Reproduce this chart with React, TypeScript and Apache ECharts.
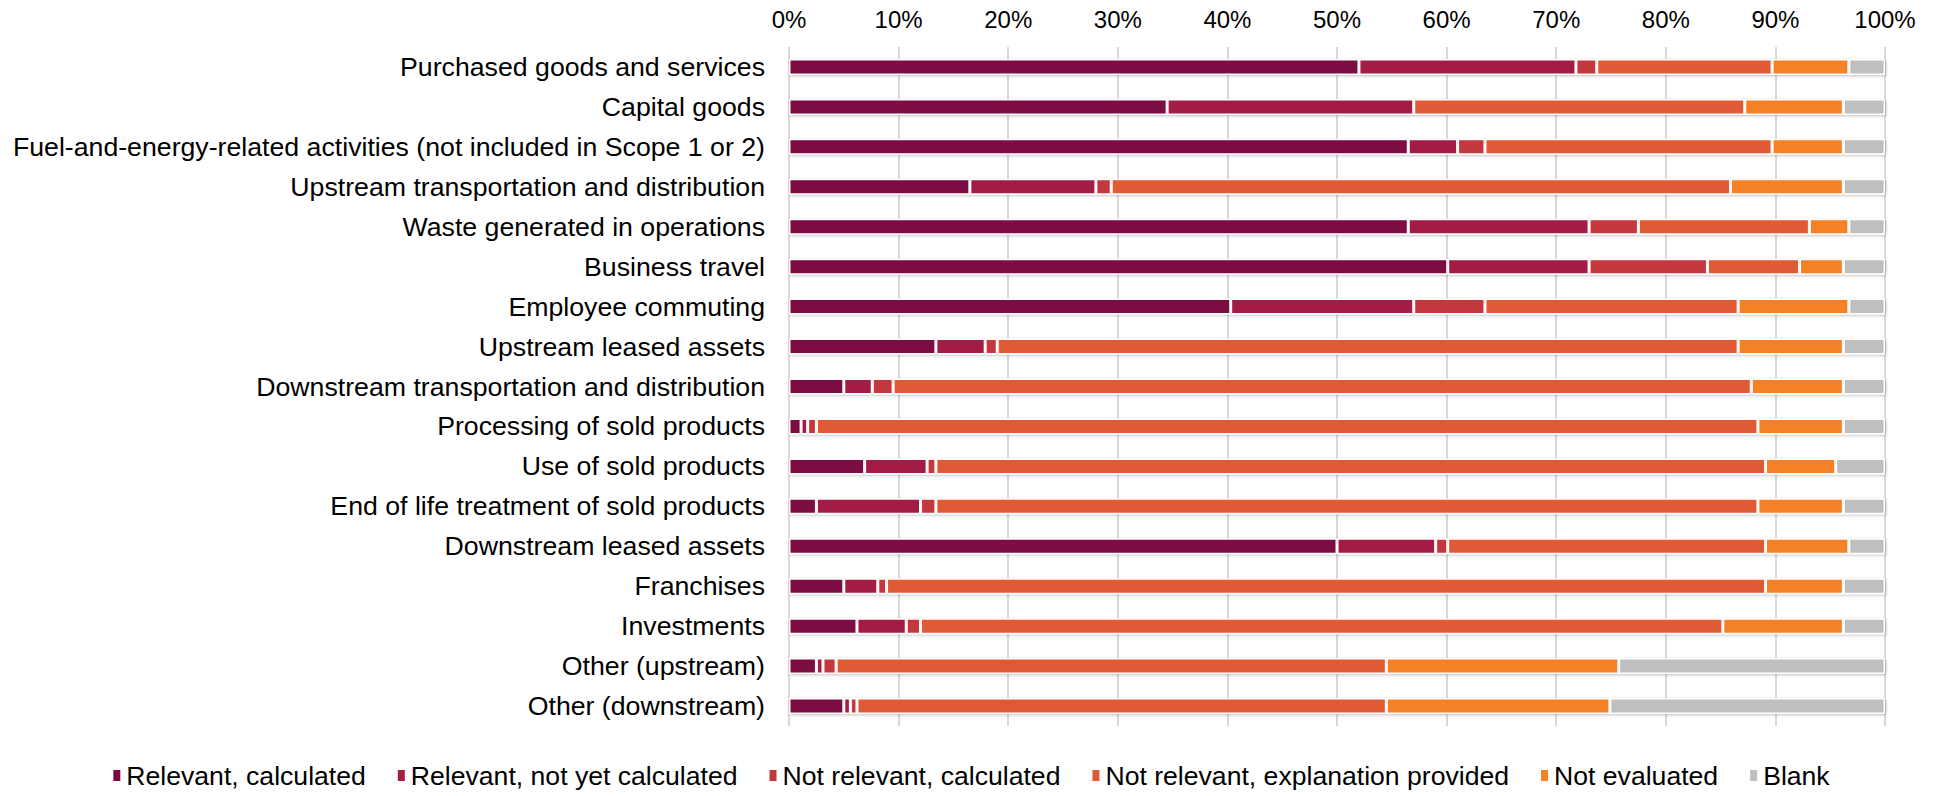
import React, { useEffect, useRef } from "react";
import * as echarts from "echarts";

const categories = [
  "Purchased goods and services",
  "Capital goods",
  "Fuel-and-energy-related activities (not included in Scope 1 or 2)",
  "Upstream transportation and distribution",
  "Waste generated in operations",
  "Business travel",
  "Employee commuting",
  "Upstream leased assets",
  "Downstream transportation and distribution",
  "Processing of sold products",
  "Use of sold products",
  "End of life treatment of sold products",
  "Downstream leased assets",
  "Franchises",
  "Investments",
  "Other (upstream)",
  "Other (downstream)",
];

const seriesNames = [
  "Relevant, calculated",
  "Relevant, not yet calculated",
  "Not relevant, calculated",
  "Not relevant, explanation provided",
  "Not evaluated",
  "Blank",
];

const relevantCalculated = [52.0, 34.5, 56.5, 16.5, 56.5, 60.1, 40.3, 13.4, 5.0, 1.1, 6.9, 2.5, 50.0, 5.0, 6.2, 2.5, 5.0];
const relevantNotYet = [19.8, 22.5, 4.5, 11.5, 16.5, 12.9, 16.7, 4.5, 2.6, 0.6, 5.7, 9.5, 9.0, 3.1, 4.5, 0.6, 0.6];
const notRelevantCalculated = [1.9, 0, 2.5, 1.4, 4.5, 10.8, 6.5, 1.1, 1.9, 0.8, 0.8, 1.4, 1.1, 0.8, 1.3, 1.2, 0.6];
const notRelevantExplained = [16.0, 30.2, 26.2, 56.5, 15.6, 8.4, 23.1, 67.6, 78.3, 85.9, 75.7, 75.0, 29.0, 80.2, 73.2, 50.2, 48.3];
const notEvaluated = [7.0, 9.0, 6.5, 10.3, 3.6, 4.0, 10.1, 9.6, 8.4, 7.8, 6.4, 7.8, 7.6, 7.1, 11.0, 21.2, 20.4];
const blank = [3.3, 3.8, 3.8, 3.8, 3.3, 3.8, 3.3, 3.8, 3.8, 3.8, 4.5, 3.8, 3.3, 3.8, 3.8, 24.3, 25.1];

const seriesValues = [relevantCalculated, relevantNotYet, notRelevantCalculated, notRelevantExplained, notEvaluated, blank];
const colors = ["#7b0842", "#a31f44", "#c4373e", "#e05a35", "#f58025", "#bfbfbf"];
const xTicks = { min: 0, max: 100, interval: 10 };

export default function App() {
  const ref = useRef<HTMLDivElement>(null);
  useEffect(() => {
    if (!ref.current) return;
    const chart = echarts.init(ref.current, null, { renderer: "svg" });
    const font = "'Liberation Sans', Arial, sans-serif";
    chart.setOption({
      animation: false,
      color: colors,
      textStyle: { fontFamily: font },
      grid: { left: 789, right: 56, top: 47, bottom: 70, containLabel: false },
      legend: {
        bottom: 2,
        left: "center",
        itemWidth: 9,
        itemHeight: 13,
        itemGap: 30,
        icon: "rect",
        textStyle: { fontSize: 26.6, color: "#000", fontFamily: font },
        data: seriesNames,
      },
      xAxis: {
        type: "value",
        position: "top",
        min: xTicks.min,
        max: xTicks.max,
        interval: xTicks.interval,
        axisLine: { show: false },
        axisTick: { show: false },
        splitLine: { show: true, lineStyle: { color: "#d9d9d9", width: 2 } },
        axisLabel: { formatter: "{value}%", fontSize: 24, color: "#000", margin: 16, fontFamily: font },
      },
      yAxis: {
        type: "category",
        inverse: true,
        data: categories,
        axisLine: { show: false },
        axisTick: { show: false },
        axisLabel: { fontSize: 26.7, color: "#000", margin: 24, fontFamily: font },
      },
      series: seriesNames.map((name, i) => ({
        name,
        type: "bar",
        stack: "total",
        barWidth: 16,
        data: seriesValues[i],
        itemStyle: {
          color: colors[i],
          borderColor: "#ffffff",
          borderWidth: 1.5,
          shadowColor: "rgba(0,0,0,0.25)",
          shadowBlur: 3,
          shadowOffsetX: 1,
          shadowOffsetY: 1,
        },
      })),
    });
    return () => chart.dispose();
  }, []);
  return (
    <div
      ref={ref}
      style={{ position: "fixed", left: 0, top: 0, width: 1941, height: 796, background: "#fff" }}
    />
  );
}
